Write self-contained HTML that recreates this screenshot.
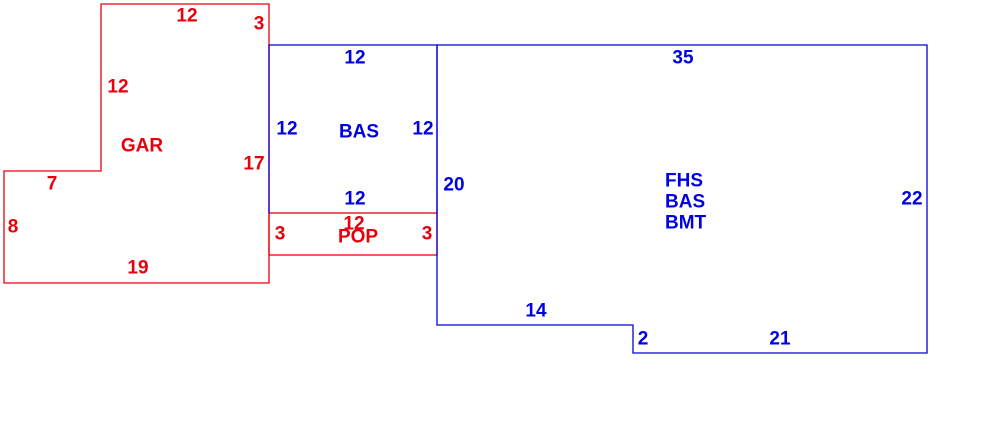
<!DOCTYPE html>
<html><head><style>
html,body{margin:0;padding:0;background:#fff;}
svg{display:block;}
text{font-family:"Liberation Sans",sans-serif;font-size:19px;font-weight:bold;dominant-baseline:central;text-anchor:middle;}
.r{fill:#e8000b;} .b{fill:#0000e0;}
</style></head><body>
<svg width="990" height="423" viewBox="0 0 990 423">
<g fill="none" stroke="#e8000b" stroke-width="1.3">
<polygon points="101,4 269,4 269,283 4,283 4,171 101,171"/>
<rect x="269" y="213" width="168" height="42"/>
</g>
<g fill="none" stroke="#0000e0" stroke-width="1.3">
<polyline points="269,213 269,45 437,45 437,213"/>
<polygon points="437,45 927,45 927,353 633,353 633,325 437,325"/>
</g>
<g class="r">
<text x="187" y="16">12</text>
<text x="259" y="24">3</text>
<text x="118" y="87">12</text>
<text x="142" y="146">GAR</text>
<text x="254" y="164">17</text>
<text x="52" y="184">7</text>
<text x="13" y="227">8</text>
<text x="138" y="268">19</text>
<text x="280" y="234">3</text>
<text x="427" y="234">3</text>
<text x="354" y="224">12</text>
<text x="358" y="237">POP</text>
</g>
<g class="b">
<text x="355" y="58">12</text>
<text x="683" y="58">35</text>
<text x="287" y="129">12</text>
<text x="359" y="132">BAS</text>
<text x="423" y="129">12</text>
<text x="355" y="199">12</text>
<text x="454" y="185">20</text>
<text x="665" y="181" style="text-anchor:start">FHS</text>
<text x="665" y="202" style="text-anchor:start">BAS</text>
<text x="665" y="223" style="text-anchor:start">BMT</text>
<text x="912" y="199">22</text>
<text x="536" y="311">14</text>
<text x="643" y="339">2</text>
<text x="780" y="339">21</text>
</g>
</svg>
</body></html>
